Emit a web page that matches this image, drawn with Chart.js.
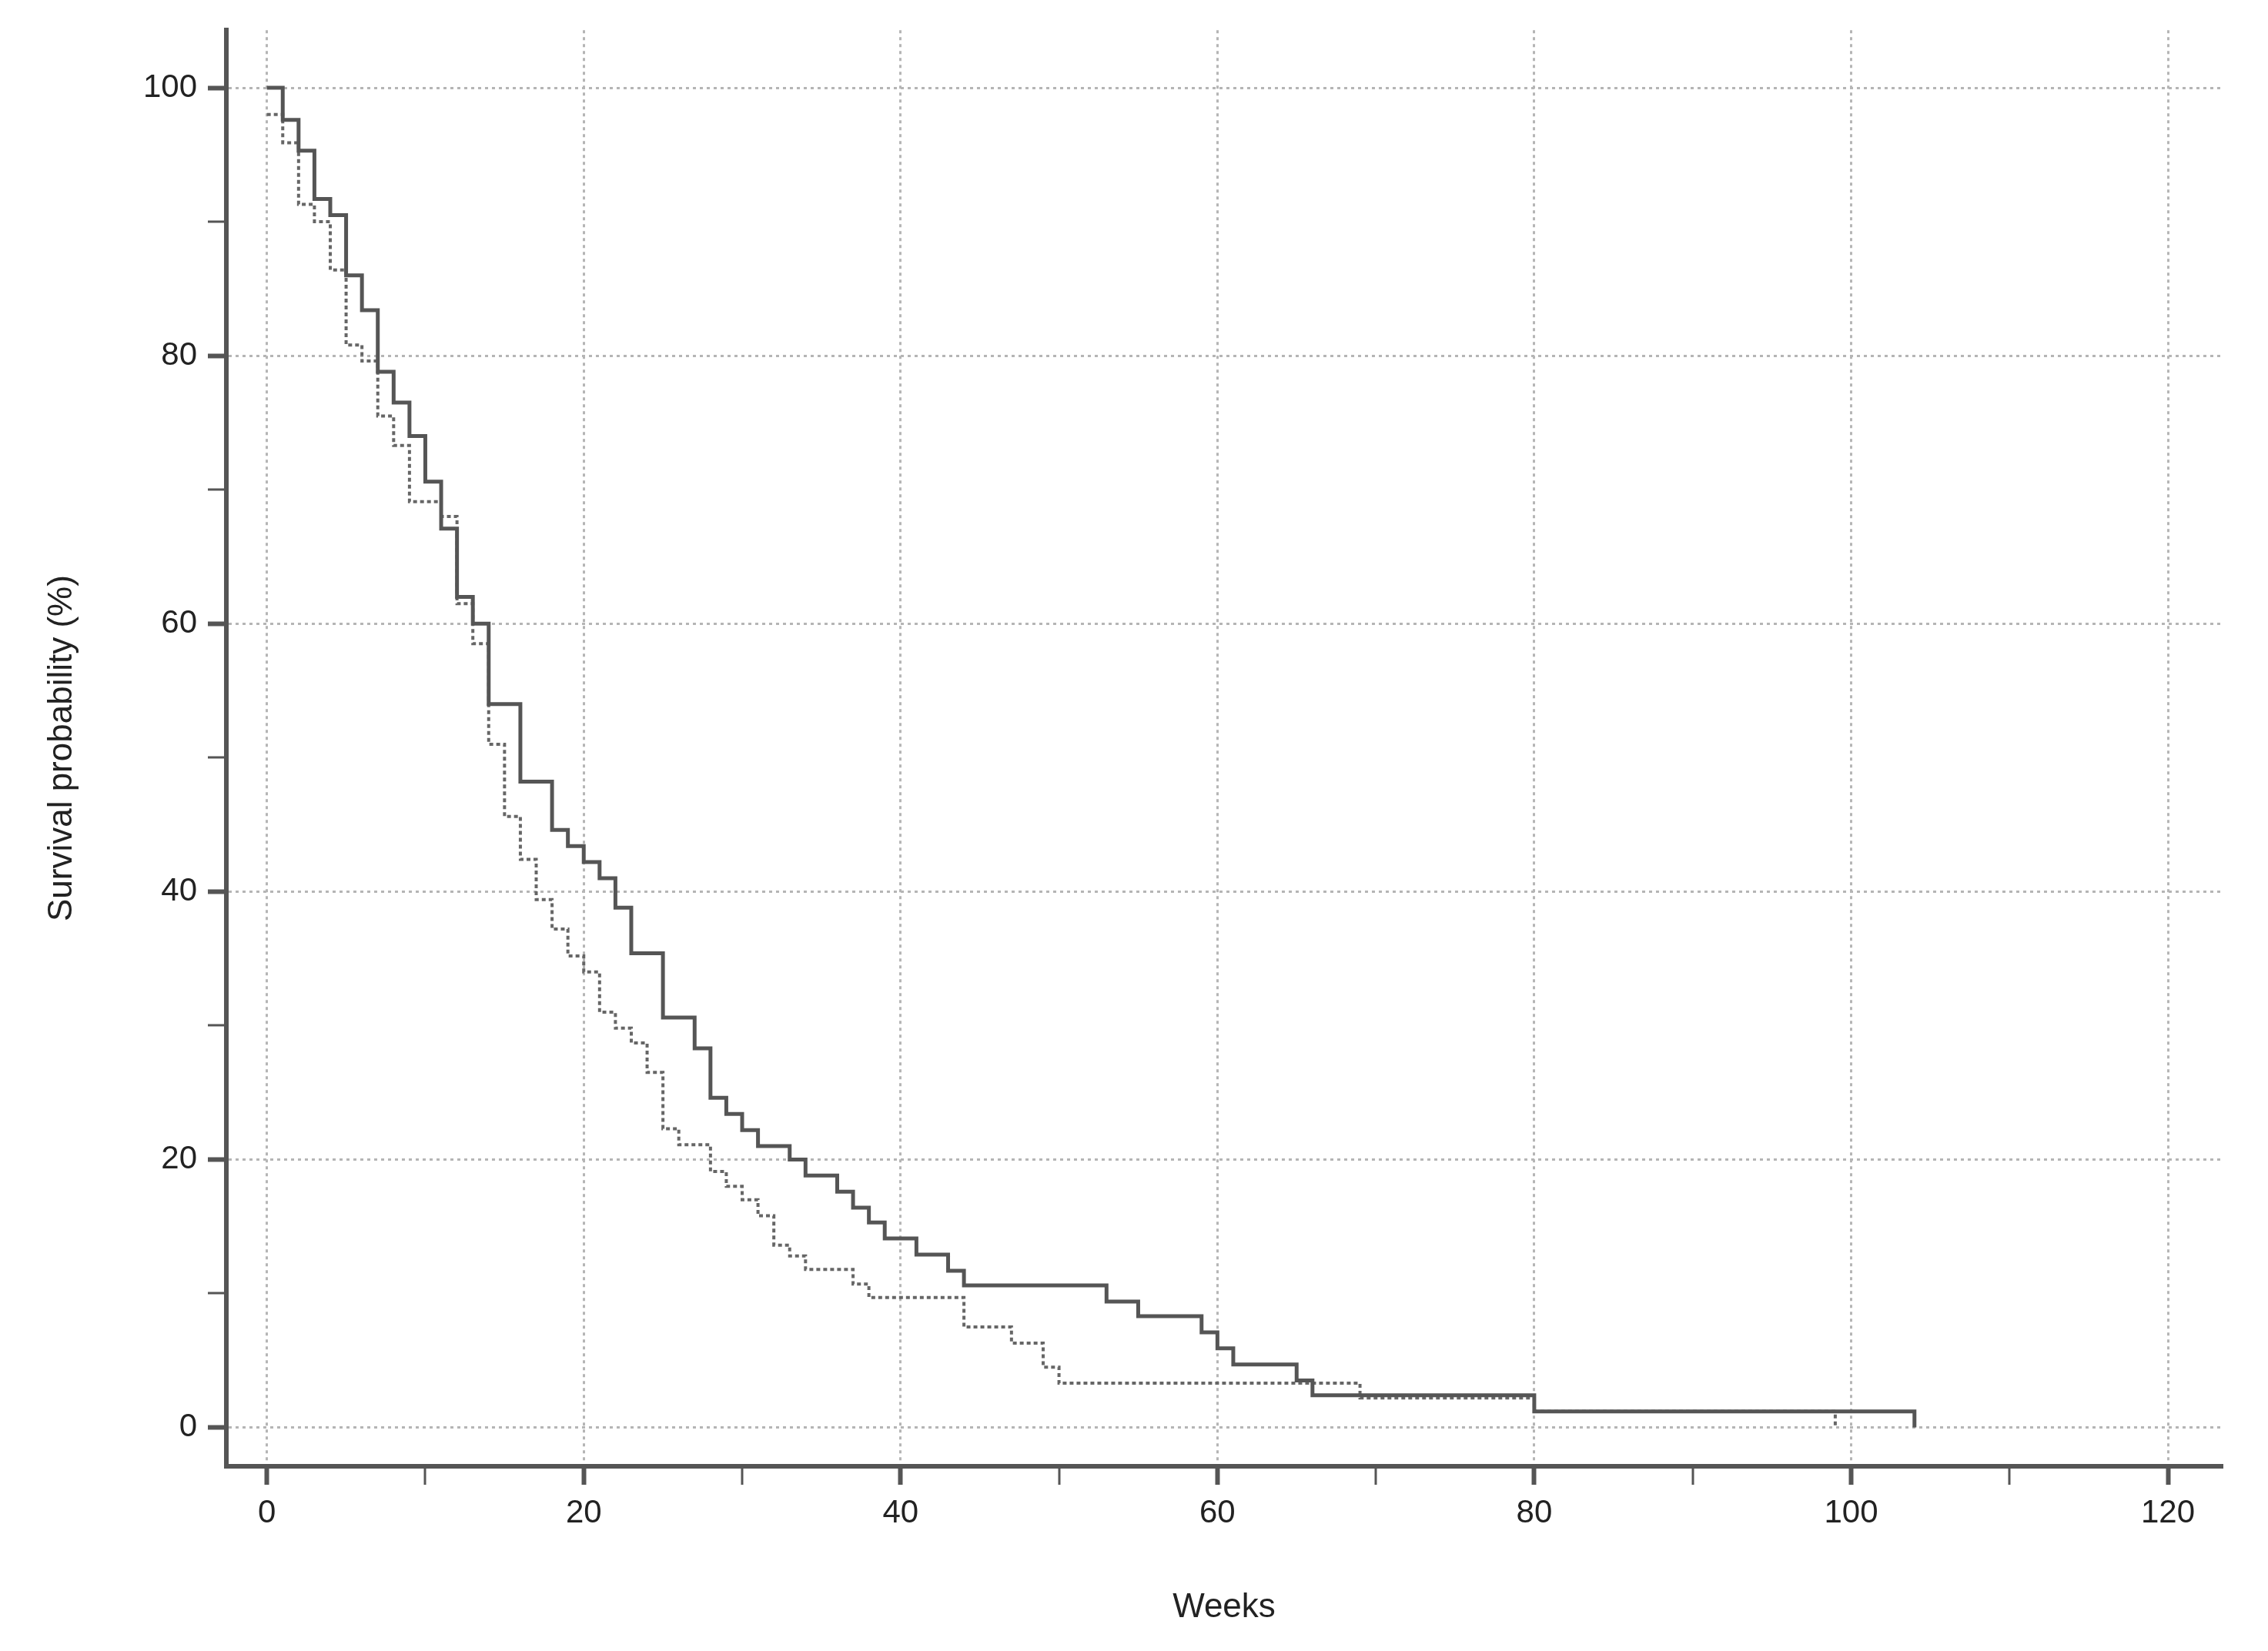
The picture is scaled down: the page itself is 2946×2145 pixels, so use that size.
<!DOCTYPE html>
<html>
<head>
<script src="https://cdn.jsdelivr.net/npm/chart.js@4.4.1/dist/chart.umd.min.js"></script>
<style>html,body{margin:0;padding:0;background:#fff}</style>
</head>
<body>
<canvas id="km" width="2946" height="2145"></canvas>
<script>
// Kaplan-Meier curves, values
const solidWeeks = [0, 1, 2, 3, 4, 5, 6, 7, 8, 9, 10, 11, 12, 13, 14, 16, 18, 19, 20, 21, 22, 23, 25, 27, 28, 29, 30, 31, 33, 34, 36, 37, 38, 39, 41, 43, 44, 53, 55, 59, 60, 61, 65, 66, 80, 104];
const solidSurv = [100, 97.6, 95.3, 91.7, 90.5, 86, 83.4, 78.8, 76.5, 74, 70.6, 67.1, 62, 60, 54, 48.2, 44.6, 43.4, 42.2, 41, 38.8, 35.4, 30.6, 28.3, 24.6, 23.4, 22.2, 21, 20, 18.8, 17.6, 16.4, 15.3, 14.1, 12.9, 11.7, 10.6, 9.4, 8.3, 7.1, 5.9, 4.7, 3.5, 2.4, 1.2, 0];
const dottedWeeks = [0, 1, 2, 3, 4, 5, 6, 7, 8, 9, 11, 12, 13, 14, 15, 16, 17, 18, 19, 20, 21, 22, 23, 24, 25, 26, 28, 29, 30, 31, 32, 33, 34, 37, 38, 44, 47, 49, 50, 69, 80, 99];
const dottedSurv = [98, 95.9, 91.3, 90, 86.4, 80.8, 79.6, 75.5, 73.3, 69.1, 68, 61.5, 58.5, 51, 45.6, 42.4, 39.4, 37.2, 35.2, 34, 31, 29.8, 28.7, 26.5, 22.3, 21.1, 19.1, 18, 17, 15.8, 13.6, 12.8, 11.8, 10.7, 9.7, 7.5, 6.3, 4.5, 3.3, 2.2, 1.2, 0];
const xTicks = [0, 10, 20, 30, 40, 50, 60, 70, 80, 90, 100, 110, 120];
const yTicks = [0, 10, 20, 30, 40, 50, 60, 70, 80, 90, 100];

const toPts = (xs, ys) => xs.map((x, i) => ({ x: x, y: ys[i] }));
const isMajor = v => v % 20 === 0;
const axisColor = '#555555';
const gridStyle = {
  color: c => isMajor(c.tick.value) ? '#b5b5b5' : 'rgba(0,0,0,0)',
  lineWidth: c => isMajor(c.tick.value) ? 3 : 0,
  tickColor: axisColor,
  tickWidth: c => isMajor(c.tick.value) ? 6 : 3,
  tickLength: 24
};

Chart.defaults.font.family = 'Arial, "Liberation Sans", sans-serif';
Chart.defaults.color = '#222';

new Chart(document.getElementById('km'), {
  type: 'line',
  data: {
    datasets: [
      {
        data: toPts(solidWeeks, solidSurv),
        stepped: true,
        borderColor: '#555555',
        borderWidth: 5,
        pointRadius: 0,
        fill: false
      },
      {
        data: toPts(dottedWeeks, dottedSurv),
        stepped: true,
        borderColor: '#666666',
        borderWidth: 4,
        borderDash: [5, 4],
        pointRadius: 0,
        fill: false
      }
    ]
  },
  options: {
    responsive: false,
    animation: false,
    layout: { padding: { top: 30, right: 60, left: 50, bottom: 0 } },
    plugins: { legend: { display: false }, tooltip: { enabled: false } },
    scales: {
      x: {
        type: 'linear',
        min: -2.56,
        max: 123.4,
        afterBuildTicks: s => { s.ticks = xTicks.map(v => ({ value: v })); },
        afterFit: s => { s.height = 240; },
        grid: gridStyle,
        border: { color: axisColor, width: 6, dash: [4, 5] },
        ticks: {
          font: { size: 42 },
          padding: 12,
          callback: v => isMajor(v) ? v : ''
        },
        title: { display: true, text: 'Weeks', font: { size: 44 }, padding: { top: 10, bottom: 30 } }
      },
      y: {
        type: 'linear',
        min: -2.9,
        max: 104.3,
        afterBuildTicks: s => { s.ticks = yTicks.map(v => ({ value: v })); },
        afterFit: s => { s.width = 244; },
        grid: gridStyle,
        border: { color: axisColor, width: 6, dash: [4, 5] },
        ticks: {
          font: { size: 42 },
          padding: 14,
          callback: v => isMajor(v) ? v : ''
        },
        title: { display: true, text: 'Survival probability (%)', font: { size: 44 }, padding: { bottom: 20 } }
      }
    }
  }
});
</script>
</body>
</html>
